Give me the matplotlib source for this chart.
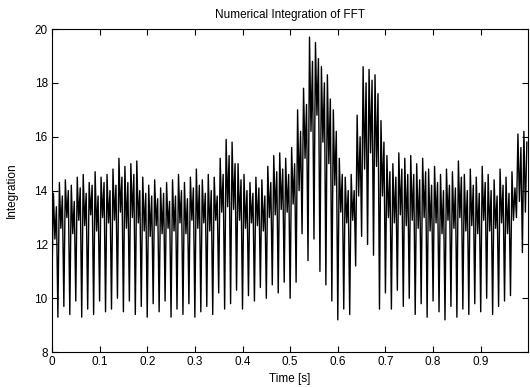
import numpy as np
import matplotlib
matplotlib.use("Agg")
import matplotlib.pyplot as plt

plt.rcParams["font.family"] = ["Liberation Sans", "DejaVu Sans"]

# ── Data (per cycle of the oscillation) ──────────────────────────────────────
dips = [
    10.6, 9.3, 9.7, 9.4, 9.9, 9.3, 9.6, 9.4, 9.9, 9.5,
    9.6, 10.0, 9.5, 9.9, 9.4, 9.7, 9.3, 9.8, 9.5, 9.9,
    9.3, 9.6, 9.4, 9.8, 9.3, 9.5, 9.7, 9.4, 10.2, 9.6,
    9.8, 10.3, 9.6, 10.1, 9.9, 10.4, 10.0, 10.5, 10.2, 10.6,
    10.0, 10.6, 12.4, 11.4, 12.2, 11.0, 10.5, 9.9, 9.2, 9.6,
    9.4, 11.2, 12.3, 12.0, 11.6, 9.6, 10.2, 9.6, 10.3, 9.7,
    10.0, 9.4, 9.8, 9.3, 9.9, 9.5, 9.2, 9.7, 9.3, 9.6,
    9.4, 9.8, 9.5, 10.0, 9.4, 9.7, 9.9, 10.1, 13.0, 11.7,
]
peaks = [
    13.9, 14.3, 14.4, 14.2, 14.5, 14.6, 14.3, 14.7, 14.5, 14.6,
    14.8, 15.2, 14.9, 15.0, 15.1, 14.5, 14.2, 14.4, 14.1, 14.3,
    14.4, 14.6, 14.3, 14.5, 14.8, 14.4, 14.6, 14.5, 15.2, 15.9,
    15.8, 15.0, 14.6, 14.3, 14.5, 14.4, 14.9, 15.3, 15.4, 15.2,
    15.6, 17.0, 17.8, 19.7, 19.5, 18.6, 18.3, 17.0, 15.2, 14.5,
    14.6, 16.8, 18.6, 18.5, 18.3, 16.6, 15.3, 15.0, 15.4, 15.2,
    15.3, 15.0, 15.2, 14.8, 14.9, 14.6, 14.8, 14.7, 15.1, 14.6,
    14.8, 14.5, 14.9, 14.6, 14.4, 14.8, 14.5, 14.7, 16.1, 16.2,
]
shoulders = [
    12.2, 12.6, 13.0, 12.4, 12.9, 12.7, 13.1, 12.5, 13.0, 12.8,
    12.9, 13.2, 12.6, 13.0, 12.8, 12.5, 12.3, 12.7, 12.4, 12.6,
    12.5, 12.8, 12.4, 12.9, 12.6, 12.8, 12.5, 12.9, 13.2, 13.4,
    13.3, 12.9, 12.6, 12.8, 12.7, 12.5, 13.0, 13.1, 13.3, 13.2,
    13.5, 14.0, 15.2, 16.2, 16.8, 15.8, 15.0, 14.2, 13.2, 12.8,
    12.9, 13.8, 14.8, 15.4, 14.9, 13.8, 13.0, 12.8, 13.1, 12.7,
    12.9, 12.6, 13.0, 12.5, 12.8, 12.4, 12.9, 12.6, 13.0, 12.5,
    12.7, 12.4, 12.9, 12.5, 12.6, 12.8, 12.4, 12.9, 13.6, 13.2,
]
peaks2 = [
    13.4, 13.8, 14.0, 13.6, 14.1, 13.9, 14.2, 13.8, 14.3, 14.0,
    14.2, 14.5, 14.3, 14.6, 14.0, 13.9, 13.8, 13.7, 13.9, 13.6,
    13.8, 14.0, 13.7, 14.1, 14.2, 13.9, 14.0, 13.8, 14.6, 15.3,
    15.0, 14.4, 14.0, 13.9, 14.1, 13.8, 14.3, 14.7, 14.8, 14.6,
    15.0, 16.2, 17.2, 18.8, 18.9, 18.0, 17.4, 16.2, 14.6, 14.0,
    14.0, 16.0, 18.0, 18.1, 17.6, 15.8, 14.7, 14.5, 14.8, 14.6,
    14.6, 14.4, 14.7, 14.2, 14.3, 14.0, 14.2, 14.1, 14.5, 14.0,
    14.2, 13.9, 14.3, 14.0, 13.8, 14.2, 13.9, 14.1, 15.6, 15.8,
]

# each cycle: dip -> peak -> shoulder -> second peak
signal = np.column_stack([dips, peaks, shoulders, peaks2]).ravel()
t = np.arange(signal.size) / signal.size

# ── Plot ──────────────────────────────────────────────────────────────────────
fig = plt.figure(figsize=(5.30, 3.87), dpi=100)
ax = fig.add_axes([0.098, 0.090, 0.898, 0.835])

ax.plot(t, signal, color="black", linewidth=1.0)

ax.set_xlim(0, 0.999)
ax.set_ylim(8, 20)
ax.set_xticks(np.arange(0, 1.0, 0.1))
ax.set_xticklabels(["0", "0.1", "0.2", "0.3", "0.4", "0.5",
                    "0.6", "0.7", "0.8", "0.9"])
ax.set_yticks(np.arange(8, 21, 2))
ax.tick_params(direction="in", top=True, right=True, labelsize=8.5,
               length=4, pad=3)
for s in ax.spines.values():
    s.set_linewidth(0.8)

ax.set_title("Numerical Integration of FFT", fontsize=8.5, pad=8)
ax.set_xlabel("Time [s]", fontsize=8.5, labelpad=3)
ax.set_ylabel("Integration", fontsize=8.5, labelpad=12)

fig.savefig("out.png", dpi=100)
